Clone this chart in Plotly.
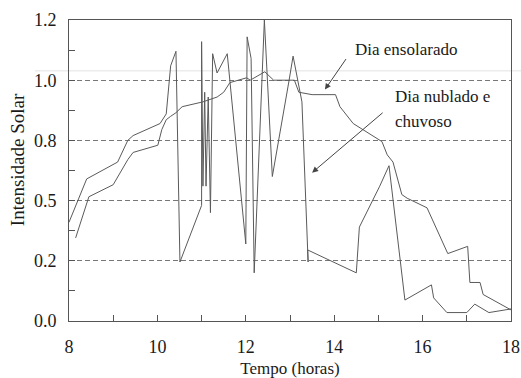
import plotly.graph_objects as go

# Dia ensolarado (sunny day)
sunny_t = [8.15, 8.45, 9.0, 9.33, 9.45, 10.01, 10.1, 10.2, 10.3, 10.42, 10.56, 11.03, 11.35, 11.5, 11.64,
           12.02, 12.1, 12.43, 12.63, 13.1, 13.2, 13.5, 14.03, 14.13, 14.43, 15.08, 15.2, 15.33, 15.53,
           15.65, 16.1, 16.57, 17.02, 17.07, 17.3, 17.37, 18.0]
sunny_v = [0.345, 0.516, 0.566, 0.67, 0.70, 0.73, 0.795, 0.836, 0.85, 0.865, 0.89, 0.91, 0.93, 0.95, 0.99,
           1.01, 1.0, 1.035, 1.0, 1.0, 0.95, 0.94, 0.94, 0.89, 0.82, 0.745, 0.69, 0.66, 0.525,
           0.51, 0.47, 0.28, 0.31, 0.16, 0.16, 0.11, 0.046]

# Dia nublado e chuvoso (cloudy / rainy day)
cloudy_t = [8.0, 8.4, 9.1, 9.33, 9.45, 10.06, 10.2, 10.3, 10.42, 10.45, 10.51, 11.0, 11.0, 11.03, 11.07,
            11.1, 11.15, 11.2, 11.25, 11.35, 11.58, 12.0, 12.03, 12.12, 12.19, 12.42, 12.6, 12.98, 13.07,
            13.27, 13.41, 13.4, 14.5, 14.57, 15.03, 15.24, 15.6, 16.2, 16.25, 16.55, 17.0, 17.18, 17.5, 18.0]
cloudy_v = [0.41, 0.59, 0.66, 0.75, 0.77, 0.82, 0.86, 1.06, 1.12, 0.85, 0.245, 0.48, 1.16, 0.56, 0.95,
            0.56, 0.93, 0.45, 1.11, 1.03, 1.11, 0.32, 1.18, 1.09, 0.2, 1.25, 0.6, 1.0, 1.10,
            0.91, 0.245, 0.295, 0.2, 0.39, 0.56, 0.645, 0.087, 0.15, 0.096, 0.035, 0.035, 0.07, 0.035, 0.05]

x_ticks = list(range(8, 19))
x_labels = [str(h) if h % 2 == 0 else "" for h in x_ticks]
y_ticks = [0, 0.25, 0.5, 0.75, 1.0, 1.25]
y_labels = ["0.0", "0.2", "0.5", "0.8", "1.0", "1.2"]
y_minor = [0.125, 0.375, 0.625, 0.875, 1.125]

FONT = "Liberation Serif"
LINE = "#5a5a5a"
AX = "#555555"
TXT = "#1a1a1a"

fig = go.Figure()
fig.add_trace(go.Scatter(x=sunny_t, y=sunny_v, mode="lines", name="Dia ensolarado",
                         line=dict(color=LINE, width=1)))
fig.add_trace(go.Scatter(x=cloudy_t, y=cloudy_v, mode="lines", name="Dia nublado e chuvoso",
                         line=dict(color=LINE, width=1)))

fig.update_layout(
    width=521, height=378,
    margin=dict(l=69, r=10, t=20, b=57, autoexpand=False),
    paper_bgcolor="white", plot_bgcolor="white",
    showlegend=False,
    font=dict(family=FONT, size=18, color=TXT),
    xaxis=dict(range=[8, 18], tickvals=x_ticks, ticktext=x_labels, ticks="inside", ticklen=6,
               tickcolor=AX, showline=True, linecolor=AX, linewidth=1, mirror=True,
               showgrid=False, zeroline=False, ticklabelstandoff=9, automargin=False,
               title=dict(text="Tempo (horas)", font=dict(size=17, family=FONT), standoff=9)),
    yaxis=dict(range=[0, 1.25], tickvals=y_ticks, ticktext=y_labels, ticks="inside", ticklen=6,
               tickcolor=AX, showline=True, linecolor=AX, linewidth=1, mirror=True,
               showgrid=True, gridcolor="#777777", griddash="5px,3px", gridwidth=1,
               zeroline=False, ticklabelstandoff=8, automargin=False,
               minor=dict(tickvals=y_minor, ticks="inside", ticklen=6, tickcolor=AX, showgrid=False)),
)

# y-axis title placed as rotated text
fig.add_annotation(xref="paper", yref="paper", x=-0.115, y=0.535, text="Intensidade Solar",
                   textangle=-90, showarrow=False, xanchor="center", yanchor="middle",
                   font=dict(size=19, family=FONT, color=TXT))

# faint scan line
fig.add_shape(type="line", xref="paper", yref="paper", x0=-0.077, x1=1.03, y0=0.831, y1=0.831,
              line=dict(color="#e2e2e2", width=1), layer="below")

fig.add_annotation(x=13.79, y=0.961, ax=14.29, ay=1.094, axref="x", ayref="y", text="",
                   showarrow=True, arrowhead=2, arrowsize=1.2, arrowwidth=1, arrowcolor="#444444")
fig.add_annotation(x=13.50, y=0.616, ax=15.13, ay=0.870, axref="x", ayref="y", text="",
                   showarrow=True, arrowhead=2, arrowsize=1.2, arrowwidth=1, arrowcolor="#444444")
fig.add_annotation(x=14.43, y=1.128, text="Dia ensolarado", showarrow=False, xanchor="left",
                   yanchor="middle", font=dict(size=17, family=FONT, color=TXT))
fig.add_annotation(x=15.33, y=0.932, text="Dia nublado e", showarrow=False, xanchor="left",
                   yanchor="middle", font=dict(size=17, family=FONT, color=TXT))
fig.add_annotation(x=15.33, y=0.828, text="chuvoso", showarrow=False, xanchor="left",
                   yanchor="middle", font=dict(size=17, family=FONT, color=TXT))

fig.write_html("out.html")
